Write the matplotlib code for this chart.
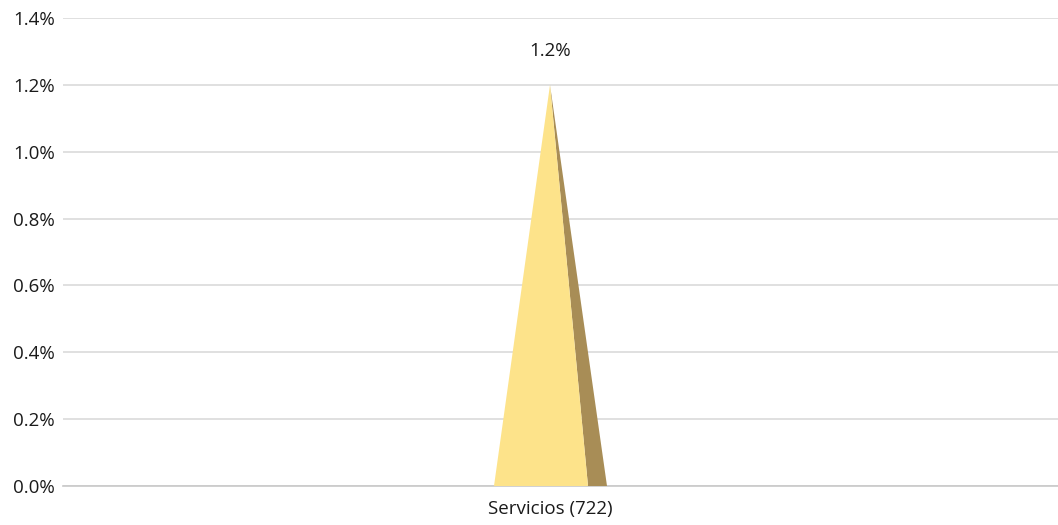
import numpy as np
import matplotlib.pyplot as plt
from matplotlib.patches import Polygon

plt.rcParams['font.family'] = ['Open Sans', 'DejaVu Sans']

categories = ['Servicios (722)']
values = [1.2]
yticks = [0.0, 0.2, 0.4, 0.6, 0.8, 1.0, 1.2, 1.4]

fig = plt.figure(figsize=(10.58, 5.25), dpi=100)
ax = fig.add_axes([63 / 1058, 39 / 525, 995 / 1058, 468 / 525])

x = np.arange(len(categories))
for xi, v in zip(x, values):
    # front face and darker side face of the pyramid
    front = Polygon([[xi - 0.112, 0], [xi + 0.076, 0], [xi, v]], closed=True,
                    facecolor='#FDE38A', edgecolor='none', zorder=3)
    side = Polygon([[xi + 0.076, 0], [xi + 0.114, 0], [xi, v]], closed=True,
                   facecolor='#A88D56', edgecolor='none', zorder=3)
    ax.add_patch(side)
    ax.add_patch(front)
    ax.text(xi, v + 0.1, '%.1f%%' % v, ha='center', va='center',
            fontsize=13.5, color='#1a1a1a')

ax.set_xlim(-0.974, 1.016)
ax.set_ylim(0, 1.4)
ax.set_yticks(yticks)
ax.set_yticklabels(['%.1f%%' % t for t in yticks])
ax.set_xticks(x)
ax.set_xticklabels(categories)
ax.tick_params(axis='both', length=0, labelsize=13.5, colors='#1a1a1a')
ax.tick_params(axis='y', pad=6)
ax.tick_params(axis='x', pad=10)

ax.grid(axis='y', color='#DADADA', linewidth=1.2, zorder=0)
ax.set_axisbelow(True)
for s in ['top', 'right', 'left']:
    ax.spines[s].set_visible(False)
ax.spines['bottom'].set_color('#C8C8C8')
ax.spines['bottom'].set_linewidth(1.2)

fig.savefig('out.png', dpi=100)
